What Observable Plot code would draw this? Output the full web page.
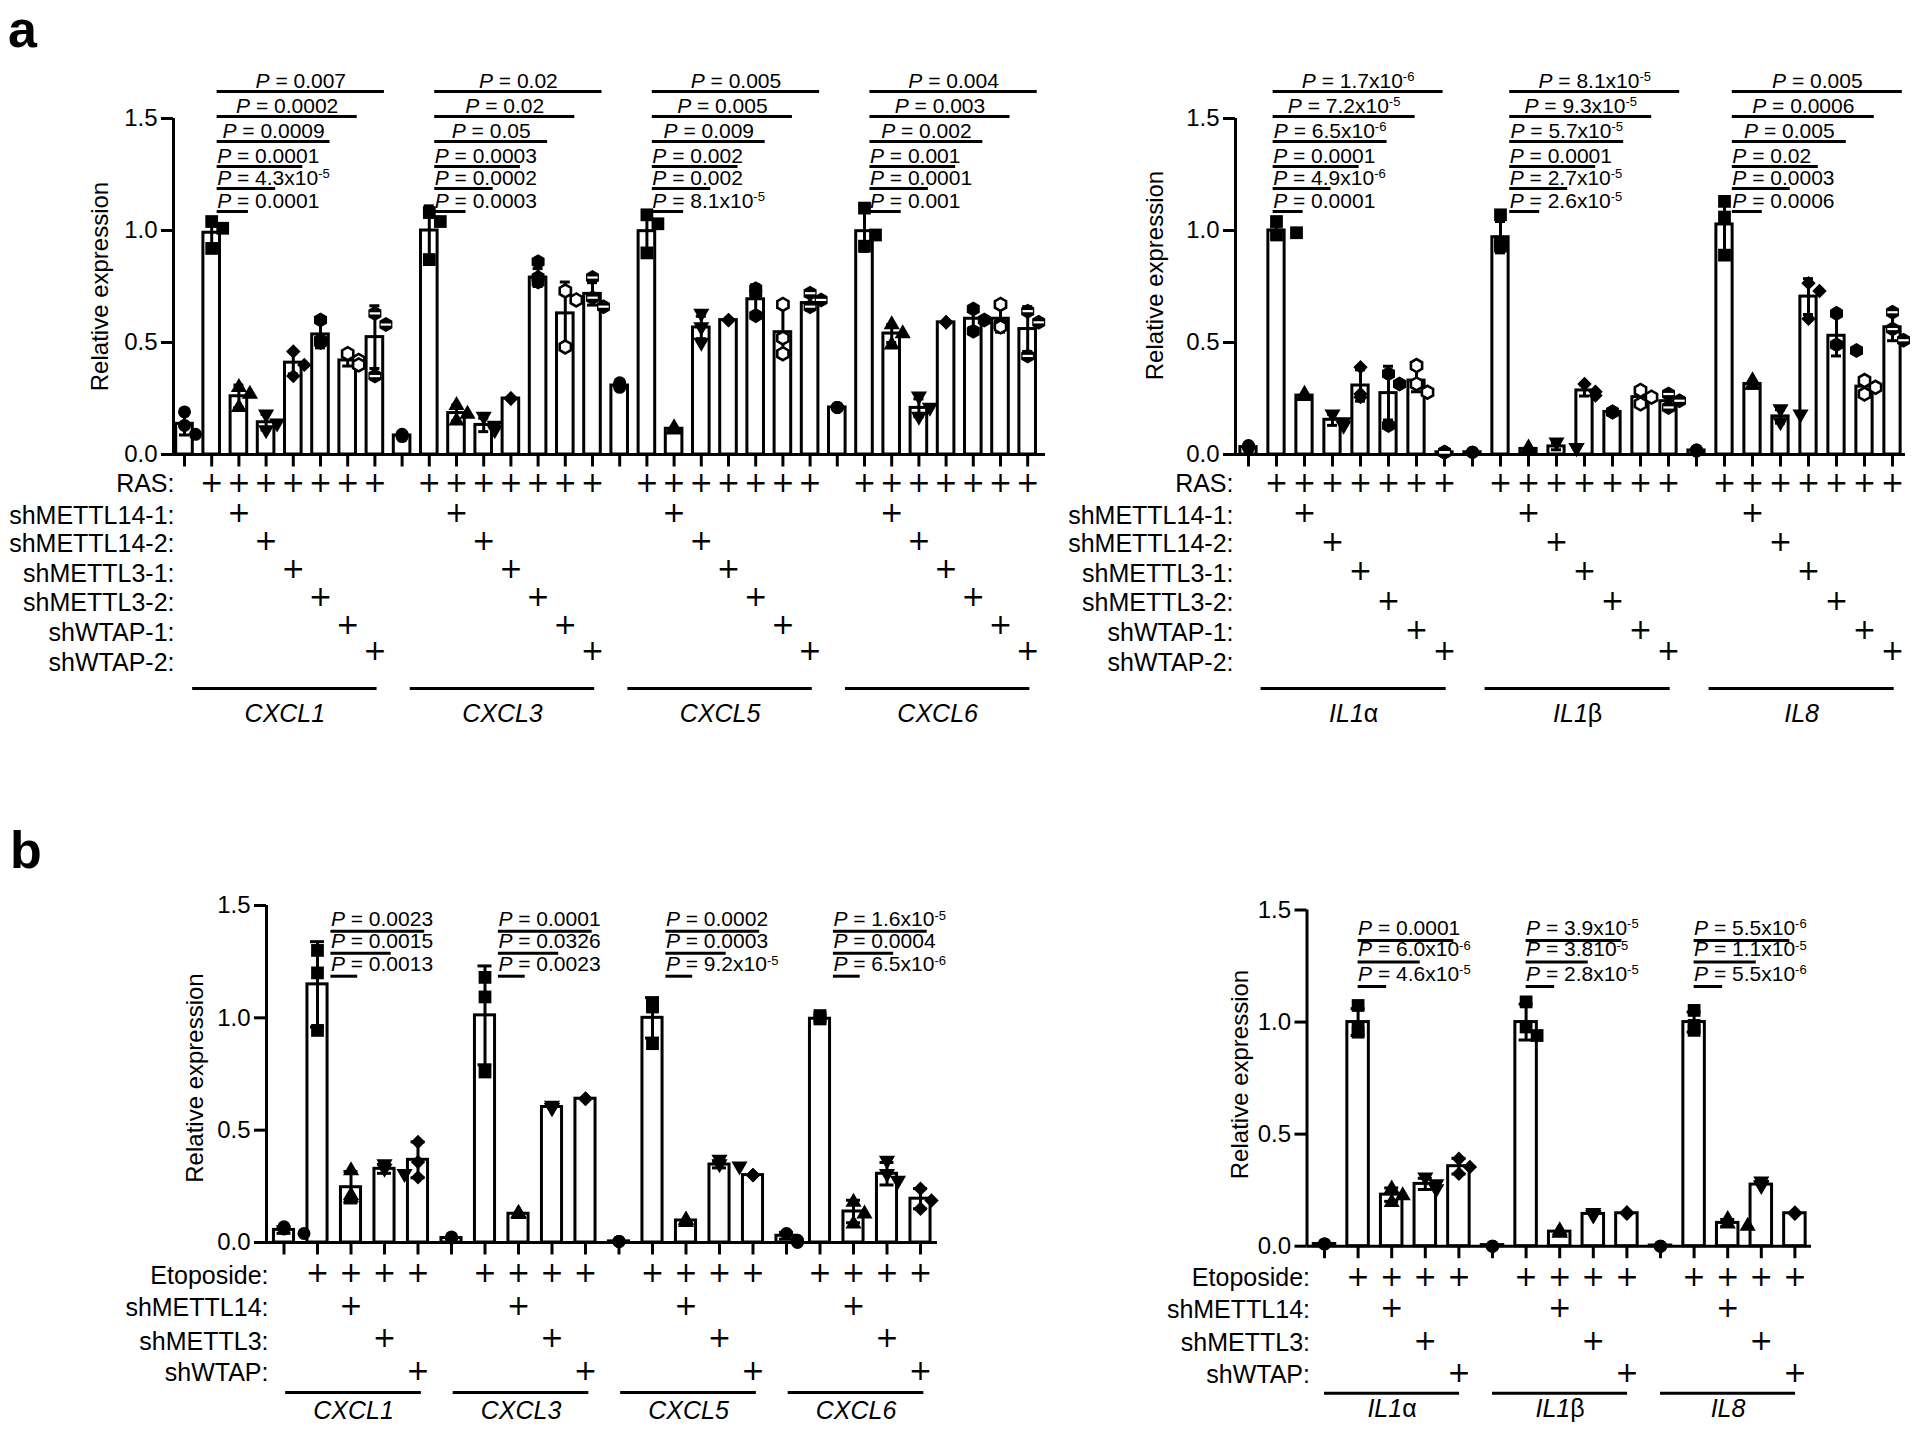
<!DOCTYPE html>
<html><head><meta charset="utf-8">
<script src="https://cdn.jsdelivr.net/npm/d3@7"></script>
<script src="https://cdn.jsdelivr.net/npm/@observablehq/plot@0.6"></script>
<style>
body{margin:0;background:#fff;}
#wrap{position:relative;width:1920px;height:1431px;overflow:hidden;background:#fff;font-family:"Liberation Sans",Arial,Helvetica,sans-serif;}
#wrap svg{position:absolute;}
.letter{position:absolute;font-weight:bold;font-size:52px;line-height:58px;color:#000;}
</style></head><body><div id="wrap"></div>
<script>
// ---------------- DATA ----------------
const aGenesLeft = ["CXCL1","CXCL3","CXCL5","CXCL6"];
const aGenesRight = ["IL1α","IL1β","IL8"];
const bGenesLeft = ["CXCL1","CXCL3","CXCL5","CXCL6"];
const bGenesRight = ["IL1α","IL1β","IL8"];

const aConditions = ["RAS:","shMETTL14-1:","shMETTL14-2:","shMETTL3-1:","shMETTL3-2:","shWTAP-1:","shWTAP-2:"];
const aDesign = [
  [0,1,1,1,1,1,1,1],
  [0,0,1,0,0,0,0,0],
  [0,0,0,1,0,0,0,0],
  [0,0,0,0,1,0,0,0],
  [0,0,0,0,0,1,0,0],
  [0,0,0,0,0,0,1,0],
  [0,0,0,0,0,0,0,1]
];
const bConditions = ["Etoposide:","shMETTL14:","shMETTL3:","shWTAP:"];
const bDesign = [
  [0,1,1,1,1],
  [0,0,1,0,0],
  [0,0,0,1,0],
  [0,0,0,0,1]
];
const yTicks = [0, 0.5, 1.0, 1.5];
const yTitle = "Relative expression";

// panel a, left (CXCL1, CXCL3, CXCL5, CXCL6)
const aLeftMean = [0.137,0.99,0.26,0.144,0.41,0.536,0.42,0.524,
                   0.085,1.0,0.185,0.132,0.25,0.79,0.63,0.717,
                   0.308,0.997,0.115,0.567,0.60,0.693,0.546,0.676,
                   0.21,0.997,0.54,0.208,0.59,0.606,0.606,0.56];
const aLeftSD = [0.05,0.065,0.05,0.035,0.05,0.06,0.025,0.14,
                 0.005,0.11,0.035,0.03,0.005,0.04,0.14,0.05,
                 0.01,0.09,0.01,0.05,0.005,0.065,0.11,0.03,
                 0.005,0.09,0.04,0.04,0.005,0.04,0.06,0.1];
const aLeftPoints = [
  [0.19,0.13,0.09],[1.04,0.92,1.01],[0.30,0.21,0.27],[0.18,0.14,0.11],[0.46,0.35,0.40],[0.60,0.50,0.51],[0.45,0.42,0.40],[0.63,0.58,0.35],
  [0.08,0.09,0.085],[1.08,0.87,1.04],[0.22,0.18,0.15],[0.17,0.13,0.11],[0.25,0.25,0.25],[0.86,0.79,0.77],[0.73,0.69,0.48],[0.79,0.70,0.66],
  [0.31,0.32,0.30],[1.07,0.90,1.03],[0.12,0.11,0.115],[0.63,0.57,0.50],[0.60,0.60,0.60],[0.74,0.72,0.62],[0.67,0.52,0.45],[0.72,0.69,0.66],
  [0.21,0.21,0.21],[1.10,0.93,0.98],[0.58,0.54,0.49],[0.26,0.21,0.17],[0.59,0.59,0.59],[0.65,0.60,0.55],[0.67,0.58,0.57],[0.64,0.59,0.44]
];
const aLeftP = [
  ["0.007","0.0002","0.0009","0.0001","4.3x10^-5","0.0001"],
  ["0.02","0.02","0.05","0.0003","0.0002","0.0003"],
  ["0.005","0.005","0.009","0.002","0.002","8.1x10^-5"],
  ["0.004","0.003","0.002","0.001","0.0001","0.001"]
];

// panel a, right (IL1α, IL1β, IL8)
const aRightMean = [0.033,1.0,0.263,0.155,0.308,0.274,0.33,0.01,
                    0.01,0.97,0.025,0.036,0.286,0.19,0.256,0.238,
                    0.018,1.027,0.315,0.17,0.705,0.53,0.303,0.568];
const aRightSD = [0.01,0.03,0.01,0.025,0.07,0.12,0.05,0.005,
                  0.005,0.07,0.005,0.015,0.025,0.005,0.03,0.025,
                  0.005,0.12,0.01,0.03,0.08,0.09,0.03,0.06];
const aRightPoints = [
  [0.03,0.04,0.035],[1.04,0.98,0.99],[0.27,0.26,0.26],[0.18,0.145,0.13],[0.39,0.27,0.256],[0.36,0.315,0.13],[0.397,0.315,0.278],[0.01,0.01,0.01],
  [0.01,0.01,0.01],[1.07,0.94,0.93],[0.02,0.025,0.03],[0.055,0.03,0.03],[0.315,0.28,0.263],[0.19,0.19,0.19],[0.286,0.256,0.226],[0.27,0.24,0.21],
  [0.015,0.02,0.02],[1.13,1.06,0.89],[0.33,0.31,0.31],[0.204,0.18,0.145],[0.765,0.73,0.606],[0.63,0.49,0.464],[0.33,0.30,0.27],[0.635,0.56,0.51]
];
const aRightP = [
  ["1.7x10^-6","7.2x10^-5","6.5x10^-6","0.0001","4.9x10^-6","0.0001"],
  ["8.1x10^-5","9.3x10^-5","5.7x10^-5","0.0001","2.7x10^-5","2.6x10^-5"],
  ["0.005","0.0006","0.005","0.02","0.0003","0.0006"]
];

// panel b, left
const bLeftMean = [0.056,1.149,0.246,0.328,0.368,
                   0.02,1.011,0.128,0.603,0.64,
                   0.005,1.0,0.098,0.347,0.30,
                   0.03,0.996,0.138,0.306,0.195];
const bLeftSD = [0.015,0.19,0.07,0.02,0.08,
                 0.005,0.22,0.01,0.01,0.005,
                 0.005,0.09,0.01,0.015,0.005,
                 0.015,0.01,0.05,0.05,0.045];
const bLeftPoints = [
  [0.07,0.06,0.04],[1.30,1.20,0.944],[0.32,0.20,0.21],[0.35,0.33,0.306],[0.447,0.358,0.29],
  [0.025,0.02,0.02],[1.18,1.093,0.759],[0.13,0.13,0.125],[0.61,0.60,0.60],[0.64,0.64,0.64],
  [0.005,0.005,0.005],[1.056,1.048,0.885],[0.10,0.10,0.09],[0.37,0.35,0.34],[0.30,0.30,0.30],
  [0.04,0.01,0.0],[1.01,1.0,0.995],[0.18,0.128,0.083],[0.365,0.306,0.276],[0.239,0.187,0.15]
];
const bLeftP = [
  ["0.0023","0.0015","0.0013"],
  ["0.0001","0.0326","0.0023"],
  ["0.0002","0.0003","9.2x10^-5"],
  ["1.6x10^-5","0.0004","6.5x10^-6"]
];

// panel b, right
const bRightMean = [0.01,1.0,0.23,0.278,0.357,
                    0.005,1.0,0.065,0.144,0.147,
                    0.003,1.0,0.104,0.275,0.147];
const bRightSD = [0.005,0.06,0.03,0.025,0.035,
                  0.003,0.08,0.005,0.005,0.005,
                  0.002,0.045,0.015,0.01,0.005];
const bRightPoints = [
  [0.01,0.01,0.01],[1.074,0.97,0.955],[0.256,0.226,0.196],[0.308,0.278,0.256],[0.39,0.353,0.323],
  [0,0,0],[1.09,0.978,0.94],[0.07,0.06,0.06],[0.15,0.14,0.14],[0.15,0.15,0.145],
  [0,0,0],[1.052,0.985,0.963],[0.12,0.10,0.09],[0.29,0.275,0.27],[0.15,0.147,0.145]
];
const bRightP = [
  ["0.0001","6.0x10^-6","4.6x10^-5"],
  ["3.9x10^-5","3.810^-5","2.8x10^-5"],
  ["5.5x10^-6","1.1x10^-5","5.5x10^-6"]
];

// ---------------- STYLE / LAYOUT ----------------
const FONT = '"Liberation Sans", Arial, Helvetica, sans-serif';
const SQ3 = Math.sqrt(3);
const triDown = {draw(ctx, size){ const y = -Math.sqrt(size/(SQ3*3)); ctx.moveTo(0, -y*2); ctx.lineTo(SQ3*y, y); ctx.lineTo(-SQ3*y, y); ctx.closePath(); }};
const hbar = {draw(ctx, size){ const r = Math.sqrt(size/Math.PI)*0.8; ctx.moveTo(-r,0); ctx.lineTo(r,0); }};
const vtick = len => ({draw(ctx){ ctx.moveTo(0,0); ctx.lineTo(0,len); }});

const aSymbols = [
  {symbol:"circle", r:6.5, fill:"black"},
  {symbol:"square", r:7.2, fill:"black"},
  {symbol:"triangle", r:6, fill:"black"},
  {symbol:triDown, r:6, fill:"black"},
  {symbol:"diamond2", r:6.5, fill:"black"},
  {symbol:"hexagon", r:6.5, fill:"black"},
  {symbol:"hexagon", r:5.6, fill:"white", stroke:"black", sw:2.6},
  {symbol:"hexagon", r:6.5, fill:"black", bar:true}
];
const bSymbols = [
  {symbol:"circle", r:6.5, fill:"black"},
  {symbol:"square", r:7.2, fill:"black"},
  {symbol:"triangle", r:6, fill:"black"},
  {symbol:triDown, r:6, fill:"black"},
  {symbol:"diamond2", r:6.5, fill:"black"}
];

const panels = [
  {left:0, top:0, width:1060, height:740, axisX0:173, axisX1:1045, first:184, step:27.2, y0:454, y15:118,
   genes:aGenesLeft, gs:8, means:aLeftMean, sds:aLeftSD, points:aLeftPoints, pvals:aLeftP,
   conditions:aConditions, design:aDesign, symbols:aSymbols, hw:0.305, capPx:5,
   titleOff:73, titleDy:0, labelDx:1, plusDy:[29,59,87,115,143,171,197], labelDy:[29,61,89,119,148,178,208],
   ulDy:234, geneDy:259, ul:[0.3,0.08], pRowDy:[-27,-2,23,48,70,93], pStart:0.2, pEnd:0.35, pShift:[0,0,0,0], centered:3, textGap:4},
  {left:1060, top:0, width:860, height:740, axisX0:1235, axisX1:1905, first:1248, step:28, y0:454, y15:118,
   genes:aGenesRight, gs:8, means:aRightMean, sds:aRightSD, points:aRightPoints, pvals:aRightP,
   conditions:aConditions, design:aDesign, symbols:aSymbols, hw:0.29, capPx:5,
   titleOff:80, titleDy:-11, labelDx:-2, plusDy:[29,59,88,117,147,176,197], labelDy:[29,61,89,119,148,178,208],
   ulDy:234, geneDy:259, ul:[0.45,0.06], pRowDy:[-27,-2,23,48,70,93], pStart:-0.12, pEnd:-0.05, pShift:[0,0.45,0.4], centered:3, textGap:4},
  {left:0, top:760, width:1060, height:671, axisX0:266, axisX1:937, first:283.5, step:33.5, y0:1242, y15:905,
   genes:bGenesLeft, gs:5, means:bLeftMean, sds:bLeftSD, points:bLeftPoints, pvals:bLeftP,
   conditions:bConditions, design:bDesign, symbols:bSymbols, hw:0.30, capPx:7,
   titleOff:71, titleDy:4, labelDx:2, plusDy:[31,64,96,128.7], labelDy:[33,65,99,130],
   ulDy:150, geneDy:168, ul:[0.05,0.1], pRowDy:[25.7,47.7,70.7], pStart:0.4, pEnd:0.2, pShift:[0,0,0,0], centered:0, textGap:5},
  {left:1060, top:760, width:860, height:671, axisX0:1306.5, axisX1:1811, first:1324, step:33.6, y0:1245.7, y15:909.5,
   genes:bGenesRight, gs:5, means:bRightMean, sds:bRightSD, points:bRightPoints, pvals:bRightP,
   conditions:bConditions, design:bDesign, symbols:bSymbols, hw:0.32, capPx:7,
   titleOff:66.5, titleDy:-3.6, labelDx:3, plusDy:[30.7,62,94.7,126.7], labelDy:[32,64,97,129],
   ulDy:147, geneDy:163, ul:[0,0.02], pRowDy:[30.5,52,76.5], pStart:0, pEnd:-0.15, pShift:[0,0,0], centered:0, textGap:6}
];

function buildPanel(c) {
  const W = c.width, H = c.height;
  const mL = c.axisX0 - c.left, mR = c.left + W - c.axisX1;
  const mT = c.y15 - c.top, mB = c.top + H - c.y0;
  const xd = [(c.axisX0 - c.first)/c.step, (c.axisX1 - c.first)/c.step];
  const ppu = (c.y0 - c.y15)/1.5;
  const gs = c.gs;
  const bars = c.means.map((m,i)=>({i, m, sd:c.sds[i], k:i%gs}));
  // replicate dots: centred, nudged sideways only where they would partly collide
  const pts = [];
  c.points.forEach((arr,i)=>{
    const placed = [];
    arr.forEach(v=>{
      const py = v*ppu;
      let off = 0;
      for (const cand of [0, 11, -11, 20, -20]) {
        const hit = placed.some(p => Math.hypot(p.px-cand, p.py-py) < 12.5 && !(Math.abs(p.py-py) <= 5 && p.px === cand));
        if (!hit) { off = cand; break; }
      }
      placed.push({px:off, py});
      pts.push({x:i + off/c.step, y:v, k:i%gs});
    });
  });
  const cw = c.capPx / c.step;
  const eb = bars.filter(d=>d.sd >= 0.015);
  const marks = [];
  marks.push(Plot.rectY(bars, {x1:d=>d.i-c.hw, x2:d=>d.i+c.hw, y:"m", fill:"white", stroke:"black", strokeWidth:3}));
  marks.push(Plot.ruleX(eb, {x:"i", y1:d=>d.m-d.sd, y2:d=>d.m+d.sd, stroke:"black", strokeWidth:3}));
  marks.push(Plot.ruleY(eb, {y:d=>d.m+d.sd, x1:d=>d.i-cw, x2:d=>d.i+cw, stroke:"black", strokeWidth:3}));
  marks.push(Plot.ruleY(eb, {y:d=>d.m-d.sd, x1:d=>d.i-cw, x2:d=>d.i+cw, stroke:"black", strokeWidth:3}));
  // axes
  marks.push(Plot.ruleY([0], {stroke:"black", strokeWidth:3}));
  marks.push(Plot.ruleX([xd[0]], {y1:()=>0, y2:()=>1.5, stroke:"black", strokeWidth:3}));
  marks.push(Plot.axisY({ticks:yTicks, tickFormat:d3.format(".1f"), tickSize:12, tickPadding:4, strokeWidth:3, fontSize:24, label:null}));
  marks.push(Plot.dot(d3.range(c.means.length), {x:d=>d, frameAnchor:"bottom", symbol:vtick(12), stroke:"black", strokeWidth:3, fill:"none"}));
  // replicate points
  c.symbols.forEach((s,k)=>{
    const data = pts.filter(p=>p.k===k);
    marks.push(Plot.dot(data, {x:"x", y:"y", symbol:s.symbol, r:s.r, fill:s.fill, stroke:s.stroke || "none", strokeWidth:s.sw || 0}));
    if (s.bar) marks.push(Plot.dot(data, {x:"x", y:"y", symbol:hbar, r:s.r, fill:"none", stroke:"white", strokeWidth:2.2}));
  });
  // p-value brackets
  const nRows = c.pvals[0].length;
  const lines = [], texts = [];
  c.pvals.forEach((rows,g)=>{
    rows.forEach((p,r)=>{
      const s = g*gs + 1, t = g*gs + gs - 1 - r;
      const x1 = s + c.pStart + c.pShift[g], x2 = t + c.pEnd + c.pShift[g];
      lines.push({x1, x2, r});
      texts.push({x: r < c.centered ? (x1+x2)/2 : x1, r, p});
    });
  });
  for (let r = 0; r < nRows; r++) {
    marks.push(Plot.ruleY(lines.filter(l=>l.r===r), {x1:"x1", x2:"x2", y:()=>1.5, dy:c.pRowDy[r], stroke:"black", strokeWidth:3}));
    marks.push(Plot.text(texts.filter(t=>t.r===r), {x:"x", y:()=>1.5, dy:c.pRowDy[r]-c.textGap, text:d=>"P = "+d.p,
      textAnchor: r < c.centered ? "middle" : "start", lineAnchor:"bottom", fontSize:21}));
  }
  // condition table
  c.design.forEach((row,r)=>{
    const xs = [];
    c.genes.forEach((gname,g)=>row.forEach((f,k)=>{ if (f) xs.push(g*gs+k); }));
    marks.push(Plot.text(xs, {x:d=>d, frameAnchor:"bottom", dy:c.plusDy[r], text:()=>"+", textAnchor:"middle", lineAnchor:"middle", fontSize:28, fontFamily:"DejaVu Sans"}));
    marks.push(Plot.text([c.conditions[r]], {frameAnchor:"bottom-left", dx:c.labelDx, dy:c.labelDy[r], text:d=>d, textAnchor:"end", lineAnchor:"middle", fontSize:25}));
  });
  const ul = c.genes.map((gname,g)=>({gname, x1:g*gs + c.ul[0], x2:g*gs + gs - 1 + c.ul[1]}));
  marks.push(Plot.ruleY(ul, {x1:"x1", x2:"x2", y:()=>0, dy:c.ulDy, stroke:"black", strokeWidth:3}));
  marks.push(Plot.text(ul, {x:d=>(d.x1+d.x2)/2, frameAnchor:"bottom", dy:c.geneDy, text:"gname", textAnchor:"middle", lineAnchor:"middle", fontStyle:"italic", fontSize:25}));
  marks.push(Plot.text([yTitle], {frameAnchor:"left", dx:-c.titleOff, dy:c.titleDy, rotate:-90, text:d=>d, textAnchor:"middle", lineAnchor:"middle", fontSize:24}));

  const svg = Plot.plot({
    width:W, height:H, marginLeft:mL, marginRight:mR, marginTop:mT, marginBottom:mB,
    x:{domain:xd, axis:null}, y:{domain:[0,1.5]},
    style:{fontFamily:FONT, fontSize:"24px", color:"black", background:"transparent", overflow:"visible"},
    marks
  });
  svg.style.left = c.left + "px";
  svg.style.top = c.top + "px";
  d3.select(svg).selectAll("text").each(function(){
    const t = this.textContent;
    const sel = d3.select(this);
    if (t.startsWith("P = ")) {
      // italic P and superscript exponents
      const [mant, exp] = t.slice(4).split("^");
      sel.text(null);
      sel.append("tspan").attr("font-style","italic").text("P");
      sel.append("tspan").text(" = " + mant);
      if (exp) sel.append("tspan").attr("dy","-0.5em").attr("font-size","0.62em").text(exp);
    } else if (/^IL1[αβ]$/.test(t)) {
      // upright Greek suffix in italic gene names
      sel.text(null);
      sel.append("tspan").text(t.slice(0,3));
      sel.append("tspan").attr("font-style","normal").text(t.slice(3));
    }
  });
  return svg;
}

const wrap = document.getElementById("wrap");
panels.forEach(c => wrap.appendChild(buildPanel(c)));
[["a",8,0],["b",10,821]].forEach(([t,x,y])=>{
  const d = document.createElement("div");
  d.className = "letter"; d.textContent = t;
  d.style.left = x+"px"; d.style.top = y+"px";
  wrap.appendChild(d);
});
</script></body></html>
